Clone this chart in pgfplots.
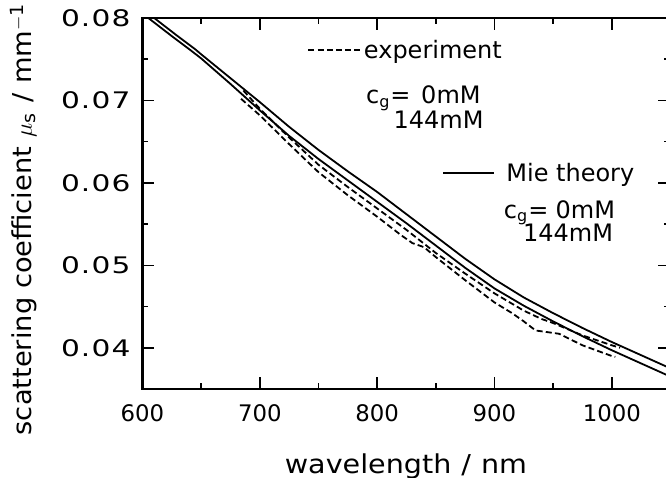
\documentclass[border=0pt]{standalone}
\usepackage{pgfplots}
\pgfplotsset{compat=1.18}
\usepackage{fontspec}
\setmainfont{DejaVu Sans}
\newfontfamily\ytickfont[FakeStretch=1.3, LetterSpace=5]{DejaVu Sans}
\newfontfamily\labfont[FakeStretch=1.1]{DejaVu Sans}
\newfontfamily\ylabfont[FakeStretch=1.05]{DejaVu Sans}
\begin{document}
\begin{tikzpicture}
\begin{axis}[
  at={(0,0)}, anchor=south west,
  scale only axis, width=264pt, height=185.5pt,
  xmin=600, xmax=1050, ymin=0.035, ymax=0.08,
  scaled y ticks=false, scaled x ticks=false,
  xtick={600,700,800,900,1000}, xticklabels={600,700,800,900,1000},
  minor xtick={650,750,850,950},
  ytick={0.04,0.05,0.06,0.07,0.08}, yticklabels={0.04,0.05,0.06,0.07,0.08},
  minor ytick={0.045,0.055,0.065,0.075},
  tick align=inside, major tick length=6pt, minor tick length=3pt,
  every tick/.style={black, line width=0.8pt},
  axis line style={line width=1.2pt},
  xticklabel style={font=\fontsize{11.4}{13}\selectfont, yshift=-4.2pt},
  yticklabel style={font=\ytickfont\fontsize{11.4}{13}\selectfont, xshift=-2.5pt},
  xlabel={wavelength\hspace{5pt}/\hspace{5pt}nm},
  xlabel style={font=\labfont\fontsize{13}{15}\selectfont, at={(axis description cs:0.499,0)}, anchor=base, yshift=-42.2pt},
  ylabel={scattering coefficient $\mu$\textsubscript{s}\hspace{5pt}/\hspace{5pt}mm\textsuperscript{$-$1}},
  ylabel style={font=\ylabfont\fontsize{13}{15}\selectfont, at={(axis description cs:-0.2093,0.458)}, anchor=base, rotate=0},
  clip=true,
]
% Mie theory, upper
\addplot[black, line width=0.9pt] coordinates {
(605,0.0805) (610,0.0800) (630,0.0778) (645,0.0762) (650,0.0756) (675,0.0727) (700,0.0698)
(725,0.0668) (750,0.0640) (775,0.0614) (800,0.0589) (825,0.0562) (850,0.0535)
(875,0.0508) (900,0.0483) (925,0.0461) (950,0.0442) (975,0.0424) (1000,0.0407)
(1025,0.0391) (1050,0.0375)};
% Mie theory, lower
\addplot[black, line width=0.9pt] coordinates {
(600,0.0806) (605,0.0800) (625,0.0778) (640,0.0762) (650,0.0751) (675,0.0720) (700,0.0688)
(725,0.0657) (750,0.0629) (775,0.0603) (800,0.0577) (825,0.0551) (850,0.0524)
(875,0.0497) (900,0.0472) (925,0.0451) (950,0.0432) (975,0.0414) (1000,0.0397)
(1025,0.0381) (1050,0.0365)};
% experiment, upper
\addplot[black, line width=0.9pt, dash pattern=on 3pt off 1.6pt] coordinates {
(686,0.0712) (700,0.0690) (725,0.0655) (750,0.0622) (775,0.0595) (800,0.0569)
(825,0.0543) (850,0.0515) (875,0.0490) (900,0.0466) (925,0.0445) (940,0.0435)
(950,0.0430) (975,0.0415) (1000,0.0403) (1007,0.0400)};
% experiment, lower
\addplot[black, line width=0.9pt, dash pattern=on 3pt off 1.6pt] coordinates {
(684,0.0702) (700,0.0682) (725,0.0647) (750,0.0613) (775,0.0585) (800,0.0559)
(820,0.0537) (830,0.0527) (840,0.0522) (850,0.0510) (875,0.0482) (900,0.0455)
(915,0.0442) (925,0.0432) (935,0.0421) (945,0.0419) (955,0.0417) (975,0.0403)
(1000,0.0390) (1003,0.0389)};
% legend
\draw[black, line width=0.9pt, dash pattern=on 3pt off 1.6pt] (axis cs:741.4,0.07616) -- (axis cs:785.8,0.07616);
\node[anchor=base west, inner sep=0pt, font=\fontsize{12}{14}\selectfont] at (axis cs:788.4,0.07511) {experiment};
\node[anchor=base west, inner sep=0pt, font=\fontsize{12}{14}\selectfont] at (axis cs:790.2,0.06958) {c\textsubscript{g}=};
\node[anchor=base east, inner sep=0pt, font=\fontsize{12}{14}\selectfont] at (axis cs:888.5,0.06958) {0mM};
\node[anchor=base east, inner sep=0pt, font=\fontsize{12}{14}\selectfont] at (axis cs:891,0.06663) {144mM};
\draw[black, line width=0.9pt] (axis cs:856.5,0.06117) -- (axis cs:899.6,0.06117);
\node[anchor=base west, inner sep=0pt, font=\fontsize{12}{14}\selectfont] at (axis cs:909.8,0.06016) {Mie theory};
\node[anchor=base west, inner sep=0pt, font=\fontsize{12}{14}\selectfont] at (axis cs:907.7,0.05572) {c\textsubscript{g}=};
\node[anchor=base east, inner sep=0pt, font=\fontsize{12}{14}\selectfont] at (axis cs:1003.1,0.05572) {0mM};
\node[anchor=base east, inner sep=0pt, font=\fontsize{12}{14}\selectfont] at (axis cs:1001.4,0.05289) {144mM};
\end{axis}
\pgfresetboundingbox
\useasboundingbox (-71.25pt,-44.5pt) rectangle (261.75pt,194.5pt);
\end{tikzpicture}
\end{document}
